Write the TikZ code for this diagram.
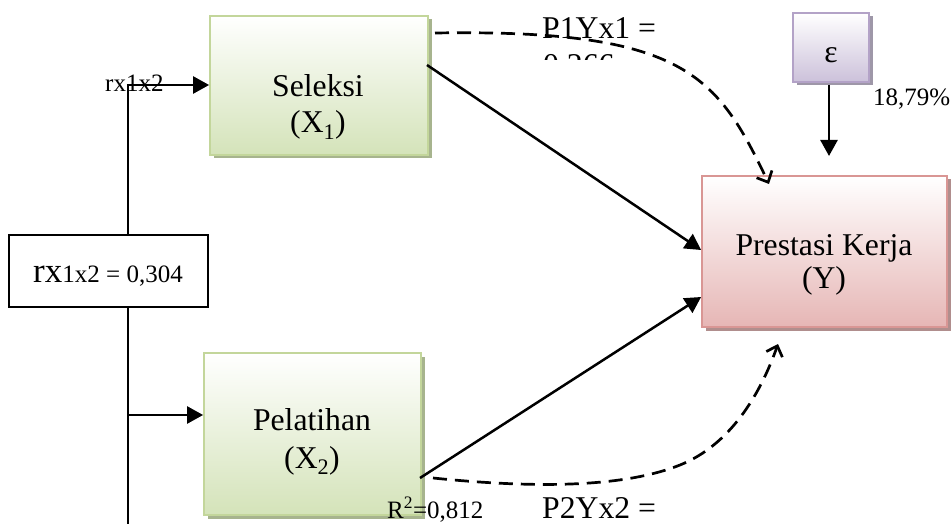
\documentclass[tikz,border=0pt]{standalone}
\usepackage{fontspec}
\setmainfont{Liberation Serif}
\usetikzlibrary{arrows.meta,shadows}
\definecolor{gbot}{HTML}{D4E3B9}
\definecolor{gbor}{HTML}{C3D69B}
\definecolor{gsha}{HTML}{A7B48E}
\definecolor{pbot}{HTML}{E6B6B5}
\definecolor{pbor}{HTML}{D99694}
\definecolor{psha}{HTML}{B08E8D}
\definecolor{vbot}{HTML}{CCC1DA}
\definecolor{vbor}{HTML}{B3A2C7}
\definecolor{vsha}{HTML}{9E97A8}
\tikzset{
  big/.style={font=\fontsize{31.7}{36}\selectfont},
  small/.style={font=\fontsize{25}{30}\selectfont},
  lbl/.style={anchor=base, inner sep=0pt},
  box/.style={rectangle, inner sep=0pt, line width=1.8pt},
  greenbox/.style={box, draw=gbor, top color=white, bottom color=gbot,
     general shadow={fill=gsha, shadow xshift=3.5pt, shadow yshift=-3.5pt}},
  pinkbox/.style={box, draw=pbor, top color=white, bottom color=pbot,
     general shadow={fill=psha, shadow xshift=3.5pt, shadow yshift=-3.5pt}},
  violetbox/.style={box, draw=vbor, top color=white, bottom color=vbot,
     general shadow={fill=vsha, shadow xshift=3.5pt, shadow yshift=-3.5pt}},
  conn/.style={line width=2.5pt, -{Triangle[length=16pt,width=17pt]}},
  dconn/.style={line width=2.7pt, dash pattern=on 14pt off 8pt,
     -{Straight Barb[length=9pt,width=17pt,line width=2.7pt]}},
}
\begin{document}
\begin{tikzpicture}[x=1pt,y=-1pt]
\useasboundingbox (0,0) rectangle (951,524);

% boxes
\node[greenbox, minimum width=218pt, minimum height=139pt] (sel) at (319,85.5) {};
\node[greenbox, minimum width=217pt, minimum height=162pt] (pel) at (312.5,434) {};
\node[pinkbox, minimum width=245pt, minimum height=151pt] (y) at (824.5,251.5) {};
\node[violetbox, minimum width=76pt, minimum height=69pt] (eps) at (831,47.5) {};

% box texts
\node[lbl, big] (tsel1) at (318,97) {Seleksi};
\node[lbl, big] (tsel2) at (318,133) {(X\textsubscript{1})};
\node[lbl, big] (tpel1) at (312,430) {Pelatihan};
\node[lbl, big] (tpel2) at (312,468) {(X\textsubscript{2})};
\node[lbl, big] (ty1) at (824,255) {Prestasi Kerja};
\node[lbl, big] (ty2) at (824,288) {(Y)};
\node[lbl, big] (teps) at (831,63) {ε};

% correlation line
\coordinate (vtop) at (128,85);
\coordinate (vbot) at (128,524);
\coordinate (vmid) at (128,415);
\coordinate (pin) at (pel.west |- vmid);
\draw[line width=2.5pt] (vbot) -- (vtop);
\draw[conn] ([xshift=-1.25pt]vtop) -- (sel.west |- vtop);
\draw[conn] (vmid) -- (pin);

\node[box, draw=black, fill=white, minimum width=199pt, minimum height=72pt] (rx) at (108.5,271) {};
\node[lbl] (trx) at (108,282) {{\fontsize{35}{40}\selectfont rx}{\fontsize{25}{30}\selectfont 1x2 = 0,304}};

% direct paths
\coordinate (s1) at (427,65);
\coordinate (p1) at (420,478);
\draw[conn] (s1) -- (y.west |- 0,250);
\draw[conn] (p1) -- (y.west |- 0,297);

% dashed paths
\coordinate (d1s) at (435,33);
\coordinate (d1e) at (769,184);
\draw[dconn] (d1s) .. controls (685,29) and (717,75) .. (d1e);
\coordinate (d2s) at (433,478);
\coordinate (d2m) at (680,465);
\coordinate (d2e) at (778,344);
\draw[dconn] (d2s) .. controls (550,490) and (630,485) .. (d2m)
   .. controls (730,445) and (760,395) .. (d2e);

% epsilon arrow
\coordinate (eend) at (829,156);
\coordinate (estart) at (829,85);
\draw[conn] (estart) -- (eend);

% labels
\node[lbl, small, anchor=base west] (lrx) at (105,92) {rx1x2};
\node[lbl, small, anchor=base west] (l18) at (873,106) {18,79\%};
\node[lbl, big, anchor=base west] (lp1) at (542,39) {P1Yx1 =};
\begin{scope}
  \clip (530,40) rectangle (660,60);
  \node[lbl, big, anchor=base west] (lp1b) at (543,76) {0,266};
\end{scope}
\node[lbl, big, anchor=base west] (lp2) at (542,518) {P2Yx2 =};
\node[lbl, small, anchor=base west] (lr2) at (387,518) {R\textsuperscript{2}=0,812};
\end{tikzpicture}
\end{document}
